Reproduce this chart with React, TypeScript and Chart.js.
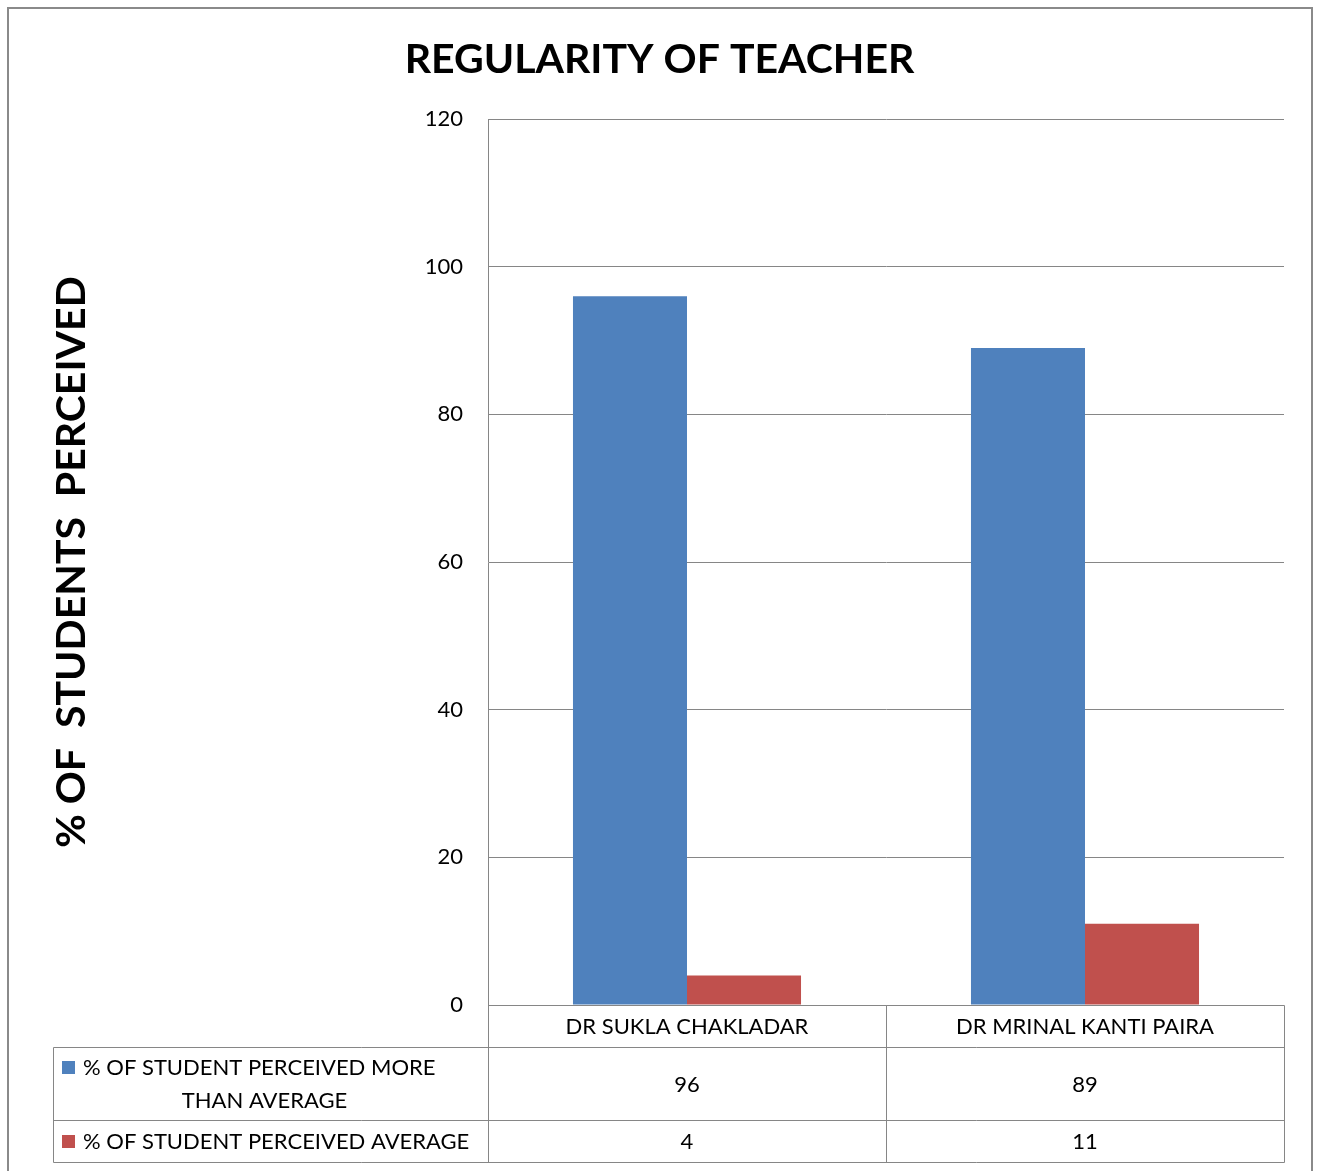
import React, { useEffect, useRef } from "react";
import { Chart, registerables } from "chart.js";

Chart.register(...registerables);

const chartTitle = "REGULARITY OF TEACHER";
const yAxisTitle = "% OF  STUDENTS  PERCEIVED";
const categories = ["DR SUKLA CHAKLADAR", "DR MRINAL KANTI PAIRA"];
const seriesNames = [
  "% OF STUDENT PERCEIVED MORE THAN AVERAGE",
  "% OF STUDENT PERCEIVED AVERAGE",
];
const moreThanAverage = [96, 89];
const average = [4, 11];
const seriesColors = ["#4F81BD", "#C0504D"];
const yMin = 0;
const yMax = 120;
const yStep = 20;

const FONT = "Lato";
const GRID = "#868686";
const BORDER = "#8a8a8a";

const W = 1319;
const H = 1171;

const px = (v: number) => Math.round(v) + 0.5;

const tablePlugin = {
  id: "dataTable",
  afterDraw(chart: any) {
    const { ctx, chartArea } = chart;
    const xs = chart.scales.x;
    const L = 53;
    const A = chartArea.left;
    const R = chartArea.right;
    const y0 = chartArea.bottom;
    const y1 = y0 + 42;
    const y2 = y1 + 73;
    const y3 = y2 + 42;
    const rowTops = [y1, y2];
    const rowBottoms = [y2, y3];

    const centers = categories.map((_, i) => xs.getPixelForValue(i));
    const bounds: number[] = [A];
    for (let i = 1; i < centers.length; i++) bounds.push((centers[i - 1] + centers[i]) / 2);
    bounds.push(R);

    ctx.save();
    ctx.strokeStyle = GRID;
    ctx.lineWidth = 1;
    const line = (x1: number, yA: number, x2: number, yB: number) => {
      ctx.beginPath();
      ctx.moveTo(x1, yA);
      ctx.lineTo(x2, yB);
      ctx.stroke();
    };
    bounds.forEach((b) => line(px(b), px(y0), px(b), px(y3)));
    line(px(L), px(y1), px(L), px(y3));
    line(px(A), px(y0), px(R), px(y0));
    [y1, y2, y3].forEach((y) => line(px(L), px(y), px(R), px(y)));

    ctx.fillStyle = "#000";
    ctx.font = `22px ${FONT}`;
    ctx.textAlign = "center";
    ctx.textBaseline = "middle";
    categories.forEach((c, i) => {
      ctx.fillText(c, centers[i], (y0 + y1) / 2 + 1);
    });

    const datasets = chart.data.datasets;
    const lineH = 33;
    datasets.forEach((ds: any, r: number) => {
      const top = rowTops[r];
      const bottom = rowBottoms[r];
      const mid = (top + bottom) / 2;
      ds.data.forEach((v: number, i: number) => {
        ctx.textAlign = "center";
        ctx.fillText(String(v), centers[i], mid + 1);
      });
      const maxW = A - 83 - 6;
      const words = String(ds.label).split(" ");
      const lines: string[] = [];
      let cur = "";
      words.forEach((w) => {
        const t = cur ? cur + " " + w : w;
        if (ctx.measureText(t).width > maxW && cur) {
          lines.push(cur);
          cur = w;
        } else cur = t;
      });
      if (cur) lines.push(cur);
      const startY = mid - ((lines.length - 1) * lineH) / 2;
      lines.forEach((ln, k) => {
        const yy = startY + k * lineH;
        if (k === 0) {
          ctx.fillStyle = ds.backgroundColor;
          ctx.fillRect(62, Math.round(yy - 6), 13, 13);
          ctx.fillStyle = "#000";
          ctx.textAlign = "left";
          ctx.fillText(ln, 83, yy + 1);
        } else {
          ctx.textAlign = "center";
          ctx.fillText(ln, (L + A) / 2 - 6, yy + 1);
        }
      });
    });

    ctx.strokeStyle = BORDER;
    ctx.lineWidth = 2;
    ctx.strokeRect(8, 8, 1304, H + 40);
    ctx.restore();
  },
};

export default function App() {
  const ref = useRef<HTMLCanvasElement | null>(null);
  useEffect(() => {
    if (!ref.current) return;
    const chart = new Chart(ref.current, {
      type: "bar",
      data: {
        labels: categories,
        datasets: [
          {
            label: seriesNames[0],
            data: moreThanAverage,
            backgroundColor: seriesColors[0],
            categoryPercentage: 0.573,
            barPercentage: 1,
          },
          {
            label: seriesNames[1],
            data: average,
            backgroundColor: seriesColors[1],
            categoryPercentage: 0.573,
            barPercentage: 1,
          },
        ],
      },
      options: {
        responsive: false,
        animation: false,
        devicePixelRatio: 1,
        layout: { padding: { left: 0, right: 0, top: 0, bottom: H - 1005 } },
        plugins: {
          legend: { display: false },
          tooltip: { enabled: false },
          title: {
            display: true,
            text: chartTitle,
            color: "#000",
            font: { family: FONT, size: 41, weight: "bold" },
            padding: { top: 35.4, bottom: 34.4 },
          },
        },
        scales: {
          x: { display: false },
          y: {
            min: yMin,
            max: yMax,
            ticks: {
              stepSize: yStep,
              color: "#000",
              padding: 25,
              font: { family: FONT, size: 22 },
            },
            grid: { color: GRID, lineWidth: 1, drawTicks: false },
            border: { display: true, color: GRID, width: 1 },
            title: {
              display: true,
              text: yAxisTitle,
              color: "#000",
              font: { family: FONT, size: 41, weight: "bold" },
              padding: { top: 47.4, bottom: 0 },
            },
            afterFit: (scale: any) => {
              scale.width = 488;
            },
          },
          yRightMargin: {
            type: "linear",
            position: "right",
            display: true,
            min: yMin,
            max: yMax,
            grid: { display: false, drawTicks: false },
            border: { display: false },
            ticks: { display: false },
            afterFit: (scale: any) => {
              scale.width = W - 1284;
            },
          },
        },
      },
      plugins: [tablePlugin],
    });
    return () => chart.destroy();
  }, []);
  return (
    <div style={{ position: "absolute", left: 0, top: 0, width: W, height: H }}>
      <canvas ref={ref} width={W} height={H} style={{ display: "block" }} />
    </div>
  );
}
